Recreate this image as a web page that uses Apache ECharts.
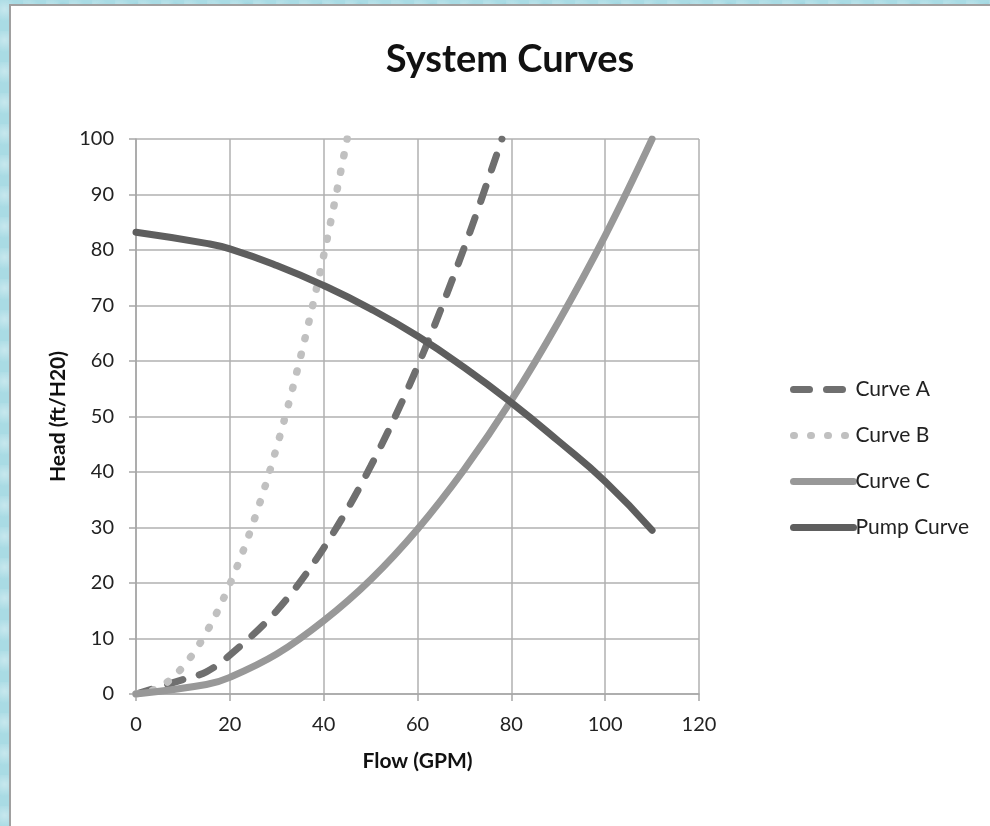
<!DOCTYPE html>
<html>
<head>
<meta charset="utf-8">
<script src="https://cdn.jsdelivr.net/npm/echarts@6/dist/echarts.min.js"></script>
<style>
  html, body { margin: 0; padding: 0; width: 990px; height: 826px; overflow: hidden; }
  body {
    background: #a9dbe4;
    background-image:
      radial-gradient(circle at 20% 30%, rgba(255,255,255,0.35) 0, rgba(255,255,255,0) 12px),
      radial-gradient(circle at 70% 60%, rgba(90,170,190,0.35) 0, rgba(90,170,190,0) 10px);
    background-size: 23px 31px, 37px 19px;
  }
  #card {
    position: absolute; left: 9px; top: 4px; width: 990px; height: 830px;
    background: #ffffff; border-left: 2px solid #a0a0a0; border-top: 2px solid #a0a0a0;
  }
  #chart { position: absolute; left: 0; top: 0; width: 990px; height: 826px; }
</style>
</head>
<body>
<div id="card"></div>
<div id="chart"></div>
<script>
// Data
const flowA = [0, 10, 15, 20, 30, 40, 50, 60, 70, 78];
const headA = [0, 2.6, 4.0, 7.0, 15, 26.3, 41, 59, 80.5, 100];

const flowB = [0, 5, 10, 15, 20, 25, 30, 35, 40, 45];
const headB = [0, 1.2, 4.9, 11.1, 19.8, 30.9, 44.5, 60.5, 79, 100];

const flowC = [0, 15, 20, 30, 40, 50, 60, 70, 80, 90, 100, 110];
const headC = [0, 1.7, 3.0, 7.2, 13.2, 20.6, 29.7, 40.5, 52.9, 67, 82.6, 100];

const flowPump = [0, 15, 20, 30, 40, 50, 60, 70, 80, 90, 100, 110];
const headPump = [83.2, 81.2, 80.2, 77.2, 73.6, 69.4, 64.5, 58.8, 52.5, 45.6, 38.3, 29.5];

const seriesNames = ['Curve A', 'Curve B', 'Curve C', 'Pump Curve'];
const titleText = 'System Curves';
const xName = 'Flow (GPM)';
const yName = 'Head (ft/H20)';

function pairs(xs, ys) { return xs.map((x, i) => [x, ys[i]]); }

const FONT = 'Lato, "Open Sans", sans-serif';
const chart = echarts.init(document.getElementById('chart'), null, { renderer: 'canvas' });

const option = {
  backgroundColor: 'transparent',
  animation: false,
  title: {
    text: titleText,
    left: 505, top: 36, textAlign: 'center',
    textStyle: { fontFamily: FONT, fontWeight: 'bold', fontSize: 38, color: '#111' }
  },
  grid: { left: 136, top: 139, width: 563, height: 555, containLabel: false },
  legend: {
    orient: 'vertical', left: 790, top: 379, padding: 0,
    itemWidth: 60, itemHeight: 14, itemGap: 25,
    itemStyle: { opacity: 0 },
    lineStyle: { width: 7 },
    textStyle: { fontFamily: FONT, fontSize: 21, color: '#222', padding: [0, 0, 0, -3] },
    data: seriesNames
  },
  xAxis: {
    type: 'value', min: 0, max: 120, interval: 20,
    name: xName, nameLocation: 'middle', nameGap: 57,
    nameTextStyle: { fontFamily: FONT, fontWeight: 'bold', fontSize: 21, color: '#111' },
    axisLine: { show: true, lineStyle: { color: '#a6a6a6', width: 1.5 } },
    axisTick: { show: true, length: 7, lineStyle: { color: '#a6a6a6', width: 1.5 } },
    axisLabel: { fontFamily: FONT, fontSize: 20, color: '#222', margin: 21 },
    splitLine: { show: true, lineStyle: { color: '#b0b0b0', width: 1.5 } }
  },
  yAxis: {
    type: 'value', min: 0, max: 100, interval: 10,
    name: yName, nameLocation: 'middle', nameGap: 64, nameRotate: 90,
    nameTextStyle: { fontFamily: FONT, fontWeight: 'bold', fontSize: 21, color: '#111' },
    axisLine: { show: true, lineStyle: { color: '#a6a6a6', width: 1.5 } },
    axisTick: { show: true, length: 7, lineStyle: { color: '#a6a6a6', width: 1.5 } },
    axisLabel: { fontFamily: FONT, fontSize: 20, color: '#222', margin: 22 },
    splitLine: { show: true, lineStyle: { color: '#b0b0b0', width: 1.5 } }
  },
  series: [
    {
      name: seriesNames[0], type: 'line', data: pairs(flowA, headA),
      smooth: 0.35, symbol: 'none', showSymbol: false,
      itemStyle: { color: '#6f6f6f' },
      lineStyle: { color: '#6f6f6f', width: 7, type: [16, 17], cap: 'round' }
    },
    {
      name: seriesNames[1], type: 'line', data: pairs(flowB, headB),
      smooth: 0.35, symbol: 'none', showSymbol: false,
      itemStyle: { color: '#c0c0c0' },
      lineStyle: { color: '#c0c0c0', width: 7.5, type: [1, 16], cap: 'round' }
    },
    {
      name: seriesNames[2], type: 'line', data: pairs(flowC, headC),
      smooth: 0.4, symbol: 'none', showSymbol: false,
      itemStyle: { color: '#989898' },
      lineStyle: { color: '#989898', width: 7, cap: 'round' }
    },
    {
      name: seriesNames[3], type: 'line', data: pairs(flowPump, headPump),
      smooth: 0.5, symbol: 'none', showSymbol: false,
      itemStyle: { color: '#5e5e5e' },
      lineStyle: { color: '#5e5e5e', width: 7, cap: 'round' }
    }
  ]
};
chart.setOption(option);
</script>
</body>
</html>
